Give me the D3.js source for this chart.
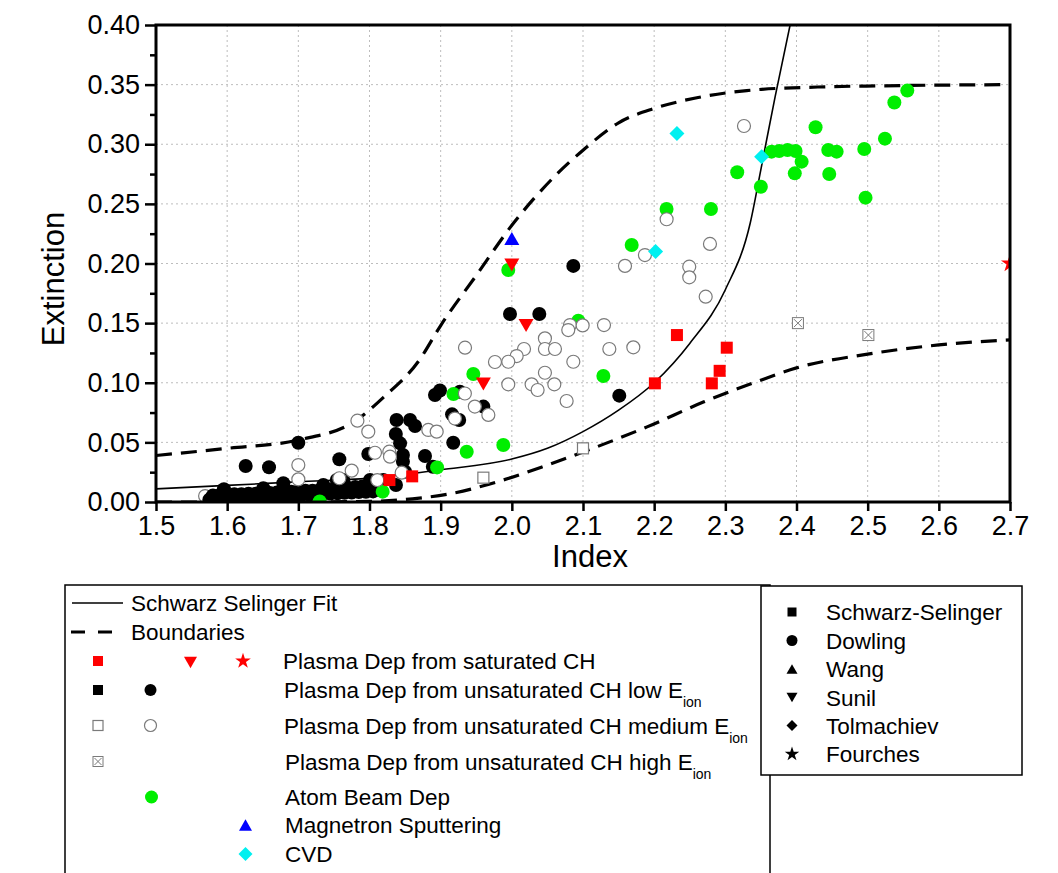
<!DOCTYPE html>
<html><head><meta charset="utf-8">
<script src="https://cdn.jsdelivr.net/npm/d3@7"></script>
<style>html,body{margin:0;padding:0;background:#fff;}svg{display:block;font-family:"Liberation Sans",Arial,sans-serif;}</style>
</head><body><svg id="c" width="1058" height="873"></svg>
<script>
// ---------- data ----------
const xTicks = [1.5,1.6,1.7,1.8,1.9,2.0,2.1,2.2,2.3,2.4,2.5,2.6,2.7];
const yTicks = [0.00,0.05,0.10,0.15,0.20,0.25,0.30,0.35,0.40];
const yMinorTicks = [0.025,0.075,0.125,0.175,0.225,0.275,0.325,0.375];

// Schwarz Selinger fit
const fitX = [1.5,1.6,1.7,1.8,1.9,2.0,2.05,2.1,2.15,2.2,2.25,2.3,2.335,2.35,2.37,2.391];
const fitY = [0.011,0.0139,0.017,0.020,0.027,0.036,0.045,0.059,0.077,0.100,0.133,0.178,0.234,0.279,0.34,0.40];
// boundaries
const upperX = [1.5,1.6,1.7,1.78,1.82,1.87,1.9,1.95,2.0,2.06,2.1,2.15,2.2,2.26,2.33,2.43,2.52,2.7];
const upperY = [0.039,0.045,0.052,0.068,0.088,0.119,0.148,0.19,0.232,0.273,0.295,0.318,0.330,0.339,0.345,0.348,0.349,0.35];
const lowerX = [1.5,1.7,1.8,1.87,1.91,1.98,2.05,2.12,2.19,2.27,2.34,2.4,2.5,2.6,2.7];
const lowerY = [0.0,0.0,0.0005,0.0033,0.0065,0.017,0.031,0.0464,0.063,0.084,0.10,0.1125,0.124,0.1317,0.136];

// Plasma Dep from saturated CH
const satSquares = [[1.828,0.0184],[1.86,0.0215],[2.201,0.0995],[2.232,0.140],[2.281,0.0995],[2.292,0.110],[2.302,0.1294]];
const satTriangles = [[2.0,0.1987],[2.02,0.148],[1.96,0.099]];
const satStars = [[2.7,0.20]];
// unsaturated CH low Eion (Dowling, filled black circles)
const lowCircles = [[2.0864,0.198],[1.9974,0.1577],[2.0386,0.1577],[2.151,0.0892],[1.96,0.080],[1.927,0.0925],
  [1.916,0.0735],[1.926,0.0688],[1.9177,0.0497],[1.892,0.0897],[1.899,0.0935],[1.838,0.0688],[1.857,0.0688],
  [1.864,0.0637],[1.837,0.057],[1.843,0.0492],[1.847,0.0394],[1.847,0.0338],[1.878,0.0386],[1.889,0.0296],
  [1.7576,0.0358],[1.7983,0.0403],[1.70,0.0497],[1.626,0.0302],[1.6588,0.0291],[1.85,0.0254],
  [1.5955,0.0107],[1.6508,0.0115],[1.6789,0.0157],[1.7351,0.0143],[1.7632,0.0184],[1.8007,0.0184],
  [1.8194,0.0184],[1.8372,0.0143],[1.754,0.0184]];
// dense band of low-Eion points near the axis
const lowBand = [[1.575,0.002],[1.585,0.0023],[1.595,0.0026],[1.605,0.0029],[1.615,0.0032],[1.625,0.0035],
  [1.635,0.0038],[1.645,0.0041],[1.655,0.0044],[1.665,0.0047],[1.675,0.005],[1.685,0.0053],[1.695,0.0056],
  [1.705,0.0059],[1.715,0.0062],[1.725,0.0065],[1.735,0.0068],[1.745,0.0071],[1.755,0.0074],[1.765,0.0077],
  [1.775,0.008],[1.785,0.0083],[1.795,0.0086],[1.805,0.0089],
  [1.58,0.0055],[1.59,0.006],[1.60,0.006],[1.61,0.0065],[1.62,0.0065],[1.63,0.007],[1.64,0.007],[1.65,0.0075],
  [1.66,0.0075],[1.67,0.008],[1.68,0.0085],[1.69,0.0085],[1.70,0.009],[1.71,0.0095],[1.72,0.0095],[1.73,0.010],
  [1.74,0.0105],[1.75,0.011],[1.76,0.0115],[1.77,0.012],[1.78,0.0125],[1.79,0.013],[1.80,0.0135]];
// unsaturated CH medium Eion
const medCircles = [[2.3262,0.3153],[2.2175,0.2371],[2.187,0.2071],[2.2784,0.2164],[2.159,0.198],[2.2493,0.1973],
  [2.2493,0.1884],[2.2724,0.1722],[1.9342,0.1294],[2.0817,0.1484],[2.0995,0.1481],[2.0793,0.1442],[2.1295,0.1484],
  [2.0465,0.1372],[2.0465,0.1283],[2.0606,0.1283],[2.0171,0.1283],[2.0068,0.1224],[1.995,0.1176],[1.9763,0.1174],
  [2.137,0.1283],[2.1707,0.1297],[2.0864,0.1176],[2.0465,0.1084],[1.995,0.0987],[2.0278,0.0987],[2.0362,0.0939],
  [2.0597,0.0987],[2.077,0.0847],[1.934,0.091],[1.948,0.080],[1.967,0.073],[1.92,0.070],
  [1.783,0.0682],[1.7983,0.059],[1.8826,0.0604],[1.8944,0.059],[1.8077,0.0413],[1.8278,0.0422],[1.8288,0.038],
  [1.70,0.031],[1.70,0.019],[1.775,0.0263],[1.7576,0.0199],[1.811,0.0184],[1.8452,0.0246],[1.569,0.005]];
const medSquares = [[1.96,0.0204],[2.1,0.045]];
// unsaturated CH high Eion
const highSquares = [[2.402,0.150],[2.501,0.140]];
// Atom Beam Dep
const atomCircles = [[2.5557,0.345],[2.5375,0.335],[2.4268,0.3142],[2.5243,0.3047],[2.365,0.2938],[2.3757,0.2943],
  [2.3874,0.2952],[2.3987,0.2943],[2.4446,0.2952],[2.4564,0.2938],[2.4952,0.2960],[2.4072,0.2854],[2.3976,0.2756],
  [2.446,0.2751],[2.3499,0.2644],[2.497,0.2552],[2.3167,0.2765],[2.2174,0.2457],[2.2798,0.2457],[2.1684,0.2155],
  [1.995,0.1945],[2.0934,0.152],[2.1286,0.1057],[1.9459,0.1073],[1.918,0.0906],[1.988,0.0478],[1.9366,0.0422],
  [1.8185,0.0087],[1.895,0.0290],[1.73,0.0005]];
// Magnetron Sputtering
const magTriangles = [[2.0,0.221]];
// CVD
const cvdDiamonds = [[2.232,0.309],[2.202,0.21],[2.351,0.2896]];

const legendMain = ["Schwarz Selinger Fit","Boundaries","Plasma Dep from saturated CH",
  "Plasma Dep from unsaturated CH low E","Plasma Dep from unsaturated CH medium E",
  "Plasma Dep from unsaturated CH high E","Atom Beam Dep","Magnetron Sputtering","CVD"];
const legendAuthors = ["Schwarz-Selinger","Dowling","Wang","Sunil","Tolmachiev","Fourches"];

// ---------- chart ----------
const svg = d3.select("#c");
const x = d3.scaleLinear().domain([1.5,2.7]).range([156,1010]);
const y = d3.scaleLinear().domain([0,0.4]).range([502,25]);
const GREEN="#00ee00", RED="#ff0000", BLUE="#0000ff", CYAN="#00f0f0", GREY="#7a7a7a";
const DOT = 14;

svg.append("defs").append("clipPath").attr("id","plotclip")
  .append("rect").attr("x",156).attr("y",25).attr("width",854).attr("height",477);

// grid
const grid = svg.append("g");
xTicks.slice(1,-1).forEach(t=>grid.append("line").attr("x1",x(t)).attr("x2",x(t)).attr("y1",y(0)).attr("y2",y(0.4))
  .attr("stroke","#bdbdbd").attr("stroke-width",1).attr("stroke-dasharray","2,3"));
yTicks.slice(1,-1).forEach(t=>grid.append("line").attr("x1",x(1.5)).attr("x2",x(2.7)).attr("y1",y(t)).attr("y2",y(t))
  .attr("stroke","#bdbdbd").attr("stroke-width",1).attr("stroke-dasharray","2,3"));

const plot = svg.append("g").attr("clip-path","url(#plotclip)");

function marker(g, type, cx, cy, s, fill, stroke){
  let el;
  if(type==="circle"){
    el=g.append("circle").attr("cx",cx).attr("cy",cy).attr("r",s/2);
  } else if(type==="square"){
    el=g.append("rect").attr("x",cx-s/2).attr("y",cy-s/2).attr("width",s).attr("height",s);
  } else if(type==="up"){
    const h=s*0.87;
    el=g.append("path").attr("d",`M${cx-s/2},${cy+h/2}L${cx+s/2},${cy+h/2}L${cx},${cy-h/2}Z`);
  } else if(type==="down"){
    const h=s*0.87;
    el=g.append("path").attr("d",`M${cx-s/2},${cy-h/2}L${cx+s/2},${cy-h/2}L${cx},${cy+h/2}Z`);
  } else if(type==="diamond"){
    el=g.append("path").attr("d",`M${cx},${cy-s/2}L${cx+s/2},${cy}L${cx},${cy+s/2}L${cx-s/2},${cy}Z`);
  } else if(type==="star"){
    el=g.append("path").attr("d",d3.symbol(d3.symbolStar, s*s*0.45)()).attr("transform",`translate(${cx},${cy})`);
  } else if(type==="xsquare"){
    const gg=g.append("g");
    gg.append("rect").attr("x",cx-s/2).attr("y",cy-s/2).attr("width",s).attr("height",s)
      .attr("fill","#fff").attr("stroke",GREY).attr("stroke-width",1);
    gg.append("path").attr("d",`M${cx-s/2+1.5},${cy-s/2+1.5}L${cx+s/2-1.5},${cy+s/2-1.5}M${cx+s/2-1.5},${cy-s/2+1.5}L${cx-s/2+1.5},${cy+s/2-1.5}`)
      .attr("stroke",GREY).attr("stroke-width",1);
    return gg;
  }
  el.attr("fill",fill).attr("stroke",stroke||"none").attr("stroke-width",stroke?1.2:0);
  return el;
}

// lines
const lineGen = (xs,ys)=>d3.line().curve(d3.curveMonotoneX)(xs.map((v,i)=>[x(v),y(ys[i])]));
plot.append("path").attr("d",lineGen(upperX,upperY)).attr("fill","none").attr("stroke","#000")
  .attr("stroke-width",3.2).attr("stroke-dasharray","16,9");
plot.append("path").attr("d",lineGen(lowerX,lowerY)).attr("fill","none").attr("stroke","#000")
  .attr("stroke-width",3.2).attr("stroke-dasharray","16,9");
plot.append("path").attr("d",lineGen(fitX,fitY)).attr("fill","none").attr("stroke","#000").attr("stroke-width",1.6);

// points
medCircles.filter(d=>d[0]<1.6).forEach(d=>marker(plot,"circle",x(d[0]),y(d[1]),DOT-1,"#fff",GREY));
lowBand.forEach(d=>marker(plot,"circle",x(d[0]),y(d[1]),DOT,"#000"));
lowCircles.forEach(d=>marker(plot,"circle",x(d[0]),y(d[1]),DOT,"#000"));
atomCircles.forEach(d=>marker(plot,"circle",x(d[0]),y(d[1]),DOT,GREEN));
medCircles.filter(d=>d[0]>=1.6).forEach(d=>marker(plot,"circle",x(d[0]),y(d[1]),DOT-1,"#fff",GREY));
medSquares.forEach(d=>marker(plot,"square",x(d[0]),y(d[1]),11,"#fff",GREY));
highSquares.forEach(d=>marker(plot,"xsquare",x(d[0]),y(d[1]),11));
satSquares.forEach(d=>marker(plot,"square",x(d[0]),y(d[1]),12,RED));
satTriangles.forEach(d=>marker(plot,"down",x(d[0]),y(d[1]),15,RED));
magTriangles.forEach(d=>marker(plot,"up",x(d[0]),y(d[1]),15,BLUE));
cvdDiamonds.forEach(d=>marker(plot,"diamond",x(d[0]),y(d[1]),15,CYAN));
satStars.forEach(d=>marker(plot,"star",x(d[0]),y(d[1]),15,RED));

// frame
svg.append("rect").attr("x",156).attr("y",25).attr("width",854).attr("height",477)
  .attr("fill","none").attr("stroke","#000").attr("stroke-width",3);

// axes
const yAxis = svg.append("g").attr("transform","translate(156,0)")
  .call(d3.axisLeft(y).tickValues(yTicks).tickSize(11).tickPadding(5).tickFormat(d3.format(".2f")));
const yMinor = svg.append("g").attr("transform","translate(156,0)")
  .call(d3.axisLeft(y).tickValues(yMinorTicks).tickSize(6).tickFormat(""));
const xAxis = svg.append("g").attr("transform","translate(0,502)")
  .call(d3.axisBottom(x).tickValues(xTicks).tickSize(9).tickPadding(5).tickFormat(d3.format(".1f")));
[yAxis,yMinor,xAxis].forEach(a=>{
  a.select(".domain").remove();
  a.selectAll(".tick line").attr("stroke","#000").attr("stroke-width",2.5);
  a.selectAll("text").attr("fill","#000").attr("font-family","'Liberation Sans',Arial,sans-serif").attr("font-size",27);
});

svg.append("text").attr("x",590).attr("y",567).attr("text-anchor","middle").attr("font-size",31).text("Index");
svg.append("text").attr("transform","translate(64,279) rotate(-90)").attr("text-anchor","middle")
  .attr("font-size",31).text("Extinction");

// ---------- main legend ----------
const lg = svg.append("g");
lg.append("rect").attr("x",65).attr("y",585).attr("width",705).attr("height",300)
  .attr("fill","#fff").attr("stroke","#000").attr("stroke-width",1.5);
const FS = 22.5;
const rowY = [603,632,661,690,725.5,761.5,797,825,854];
const textX = [131,131,283,284,284,285,285,285,285];
lg.append("line").attr("x1",72).attr("x2",123).attr("y1",rowY[0]).attr("y2",rowY[0]).attr("stroke","#000").attr("stroke-width",1.5);
lg.append("line").attr("x1",71).attr("x2",112).attr("y1",rowY[1]).attr("y2",rowY[1]).attr("stroke","#000")
  .attr("stroke-width",3).attr("stroke-dasharray","14,13");
legendMain.forEach((t,i)=>{
  const tx = lg.append("text").attr("x",textX[i]).attr("y",rowY[i]+8).attr("font-size",FS).attr("fill","#000").text(t);
  if(i>=3 && i<=5){
    tx.append("tspan").attr("font-size",14).attr("dy",9).text("ion");
  }
});
marker(lg,"square",98,rowY[2],10,RED);
marker(lg,"down",190.5,rowY[2]+1.5,13,RED);
marker(lg,"star",243,rowY[2],13,RED);
marker(lg,"square",98,rowY[3],10,"#000");
marker(lg,"circle",150.5,rowY[3],12,"#000");
marker(lg,"square",98,rowY[4],10,"#fff",GREY);
marker(lg,"circle",150.5,rowY[4],12,"#fff",GREY);
marker(lg,"xsquare",98,rowY[5],10);
marker(lg,"circle",151.5,rowY[6],13,GREEN);
marker(lg,"up",245.5,rowY[7],13,BLUE);
marker(lg,"diamond",245.5,rowY[8],14,CYAN);

// ---------- author legend ----------
const ag = svg.append("g");
ag.append("rect").attr("x",761).attr("y",586).attr("width",261).attr("height",189)
  .attr("fill","#fff").attr("stroke","#000").attr("stroke-width",1.5);
const aY = [612,640.5,669,697.5,725.5,754];
const aTypes = ["square","circle","up","down","diamond","star"];
legendAuthors.forEach((t,i)=>{
  ag.append("text").attr("x",826).attr("y",aY[i]+8).attr("font-size",FS).attr("fill","#000").text(t);
  marker(ag,aTypes[i],792,aY[i],aTypes[i]==="star"?12:(aTypes[i]==="square"?9:11),"#000");
});
</script></body></html>
